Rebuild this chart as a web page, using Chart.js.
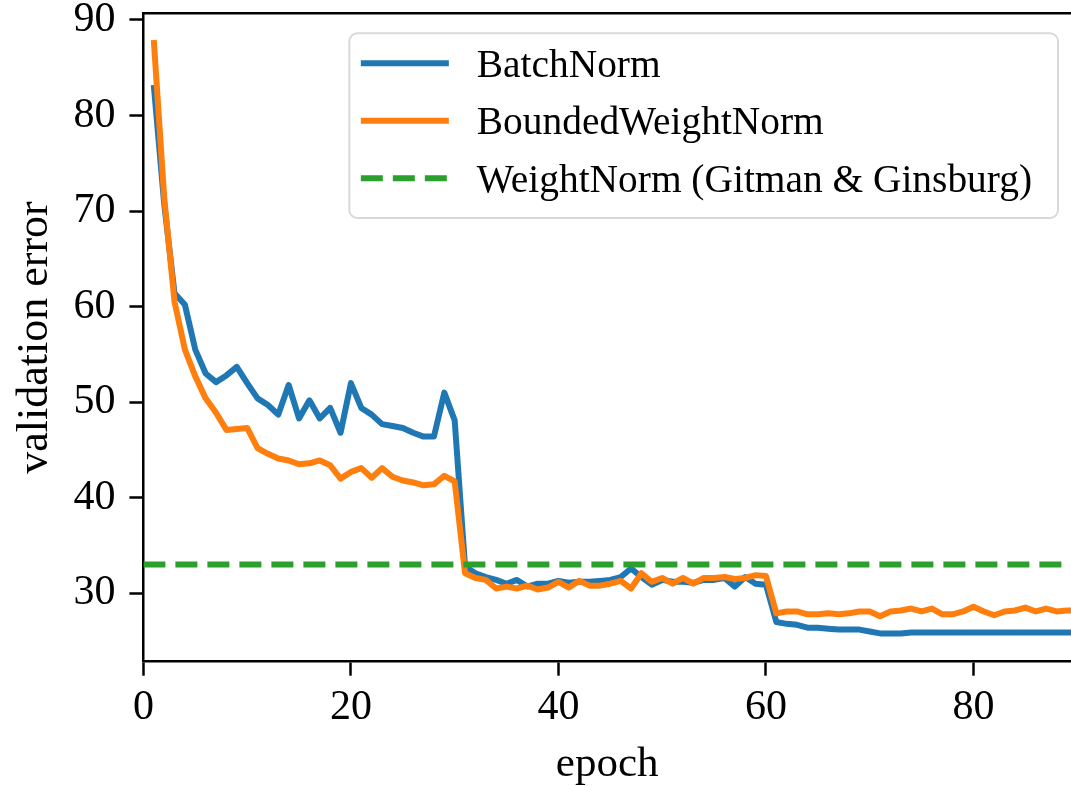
<!DOCTYPE html>
<html>
<head>
<meta charset="utf-8">
<script src="https://cdn.jsdelivr.net/npm/chart.js@4.4.1/dist/chart.umd.min.js"></script>
<style>
  html, body { margin: 0; padding: 0; background: #fff; overflow: hidden; }
  #chart { display: block; }
</style>
</head>
<body>
<canvas id="chart" width="1071" height="786"></canvas>
<script>
var epochs = [
  1, 2, 3, 4, 5, 6, 7, 8, 9, 10,
  11, 12, 13, 14, 15, 16, 17, 18, 19, 20,
  21, 22, 23, 24, 25, 26, 27, 28, 29, 30,
  31, 32, 33, 34, 35, 36, 37, 38, 39, 40,
  41, 42, 43, 44, 45, 46, 47, 48, 49, 50,
  51, 52, 53, 54, 55, 56, 57, 58, 59, 60,
  61, 62, 63, 64, 65, 66, 67, 68, 69, 70,
  71, 72, 73, 74, 75, 76, 77, 78, 79, 80,
  81, 82, 83, 84, 85, 86, 87, 88, 89, 90
];

var batchNorm = [
  83.2, 70.8, 61.4, 60.2, 55.5, 53.0, 52.1, 52.8, 53.7, 52.0,
  50.4, 49.7, 48.7, 51.8, 48.3, 50.2, 48.3, 49.4, 46.8, 52.0,
  49.4, 48.7, 47.7, 47.5, 47.3, 46.8, 46.4, 46.4, 51.0, 48.1,
  32.8, 32.1, 31.7, 31.4, 31.0, 31.4, 30.7, 31.0, 31.0, 31.3,
  31.1, 31.2, 31.2, 31.3, 31.4, 31.7, 32.6, 31.7, 30.9, 31.4,
  31.2, 31.2, 31.1, 31.4, 31.4, 31.6, 30.7, 31.7, 31.0, 30.9,
  27.0, 26.8, 26.7, 26.4, 26.4, 26.3, 26.2, 26.2, 26.2, 26.0,
  25.8, 25.8, 25.8, 25.9, 25.9, 25.9, 25.9, 25.9, 25.9, 25.9,
  25.9, 25.9, 25.9, 25.9, 25.9, 25.9, 25.9, 25.9, 25.9, 25.9
];

var boundedWeightNorm = [
  87.9, 71.5, 60.5, 55.5, 52.7, 50.4, 48.9, 47.1, 47.2, 47.3,
  45.2, 44.6, 44.1, 43.9, 43.5, 43.6, 43.9, 43.4, 42.0, 42.7,
  43.1, 42.1, 43.1, 42.2, 41.8, 41.6, 41.3, 41.4, 42.3, 41.7,
  32.1, 31.6, 31.4, 30.5, 30.7, 30.5, 30.8, 30.4, 30.6, 31.2,
  30.6, 31.3, 30.8, 30.8, 31.0, 31.3, 30.5, 32.1, 31.2, 31.6,
  31.0, 31.6, 31.0, 31.6, 31.6, 31.7, 31.5, 31.6, 31.9, 31.8,
  27.9, 28.1, 28.1, 27.8, 27.8, 27.9, 27.8, 27.9, 28.1, 28.1,
  27.6, 28.1, 28.2, 28.4, 28.1, 28.4, 27.8, 27.8, 28.1, 28.6,
  28.1, 27.7, 28.1, 28.2, 28.5, 28.1, 28.4, 28.1, 28.2, 28.2
];

// horizontal reference line (Gitman & Ginsburg)
var weightNormError = 33.0;
var weightNormSpan = [0, 90];

var xTicks = [0, 20, 40, 60, 80];
var yTicks = [30, 40, 50, 60, 70, 80, 90];

var seriesNames = ['BatchNorm', 'BoundedWeightNorm', 'WeightNorm (Gitman & Ginsburg)'];
var seriesColors = ['#1f77b4', '#ff7f0e', '#2ca02c'];

var serif = "'Liberation Serif', 'DejaVu Serif', serif";
var dashPattern = [22, 10];
var lineW = 6;

function toPoints(xs, ys) {
  return xs.map(function (x, i) { return { x: x, y: ys[i] }; });
}

// keep the plot box where the reference has it, no extra room for edge labels
function noEdgePadding(axis) {
  axis.paddingTop = 0;
  axis.paddingBottom = 0;
  axis.paddingLeft = 0;
  axis.paddingRight = 0;
}

var frameAndLegend = {
  id: 'frameAndLegend',
  afterDatasetsDraw: function (chart) {
    var ctx = chart.ctx;
    var area = chart.chartArea;
    ctx.save();

    // top spine
    ctx.strokeStyle = '#000';
    ctx.lineWidth = 2.5;
    ctx.beginPath();
    ctx.moveTo(area.left - 1.25, area.top);
    ctx.lineTo(chart.width, area.top);
    ctx.stroke();

    // legend box, upper right
    ctx.font = '39.4px ' + serif;
    var textW = 0;
    seriesNames.forEach(function (n) { textW = Math.max(textW, ctx.measureText(n).width); });
    var padL = 11.5, sampleW = 88, gap = 28, padR = 26;
    var boxW = padL + sampleW + gap + textW + padR;
    var boxH = 184.7;
    var boxR = area.right - 13;
    var boxL = boxR - boxW;
    var boxT = area.top + 20;

    ctx.beginPath();
    ctx.roundRect(boxL, boxT, boxW, boxH, 8);
    ctx.fillStyle = 'rgba(255,255,255,0.8)';
    ctx.fill();
    ctx.strokeStyle = '#d9d9d9';
    ctx.lineWidth = 2;
    ctx.stroke();

    var rows = [30, 87.4, 145];
    seriesNames.forEach(function (name, i) {
      var y = boxT + rows[i];
      ctx.beginPath();
      ctx.strokeStyle = seriesColors[i];
      ctx.lineWidth = lineW;
      ctx.lineCap = 'butt';
      ctx.setLineDash(i === 2 ? dashPattern : []);
      ctx.moveTo(boxL + padL, y);
      ctx.lineTo(boxL + padL + sampleW, y);
      ctx.stroke();
      ctx.setLineDash([]);
      ctx.fillStyle = '#000';
      ctx.textAlign = 'left';
      ctx.textBaseline = 'alphabetic';
      ctx.fillText(name, boxL + padL + sampleW + gap, y + 13.5);
    });
    ctx.restore();
  }
};

new Chart(document.getElementById('chart'), {
  type: 'line',
  data: {
    datasets: [
      {
        label: seriesNames[0],
        data: toPoints(epochs, batchNorm),
        borderColor: seriesColors[0],
        borderWidth: lineW,
        borderJoinStyle: 'round',
        pointRadius: 0,
        order: 3
      },
      {
        label: seriesNames[1],
        data: toPoints(epochs, boundedWeightNorm),
        borderColor: seriesColors[1],
        borderWidth: lineW,
        borderJoinStyle: 'round',
        pointRadius: 0,
        order: 2
      },
      {
        label: seriesNames[2],
        data: toPoints(weightNormSpan, [weightNormError, weightNormError]),
        borderColor: seriesColors[2],
        borderWidth: lineW,
        borderDash: dashPattern,
        borderCapStyle: 'butt',
        pointRadius: 0,
        order: 1
      }
    ]
  },
  options: {
    responsive: false,
    animation: false,
    devicePixelRatio: 1,
    layout: { padding: { top: 13.3, right: 0, bottom: 0, left: 0 } },
    plugins: {
      legend: { display: false },
      tooltip: { enabled: false }
    },
    scales: {
      x: {
        type: 'linear',
        min: 0,
        max: 89.4,
        afterBuildTicks: function (axis) {
          axis.ticks = xTicks.map(function (v) { return { value: v }; });
        },
        afterFit: function (axis) { axis.height = 124.3; noEdgePadding(axis); },
        border: { display: true, color: '#000', width: 2.5 },
        grid: { drawOnChartArea: false, drawTicks: true, tickLength: 14, tickWidth: 2.5, tickColor: '#000' },
        ticks: { color: '#000', padding: 7, maxRotation: 0, font: { family: serif, size: 42 } },
        title: { display: true, text: 'epoch', color: '#000', padding: { top: 0, bottom: 0 }, font: { family: serif, size: 43, lineHeight: 1 } }
      },
      y: {
        type: 'linear',
        min: 22.84,
        max: 90.7,
        afterBuildTicks: function (axis) {
          axis.ticks = yTicks.map(function (v) { return { value: v }; });
        },
        afterFit: function (axis) { axis.width = 143.4; noEdgePadding(axis); },
        border: { display: true, color: '#000', width: 2.5 },
        grid: { drawOnChartArea: false, drawTicks: true, tickLength: 14, tickWidth: 2.5, tickColor: '#000' },
        ticks: { color: '#000', padding: 14, font: { family: serif, size: 42 } },
        title: { display: true, text: 'validation error', color: '#000', padding: { top: 9, bottom: 0 }, font: { family: serif, size: 44 } }
      }
    }
  },
  plugins: [frameAndLegend]
});
</script>
</body>
</html>
